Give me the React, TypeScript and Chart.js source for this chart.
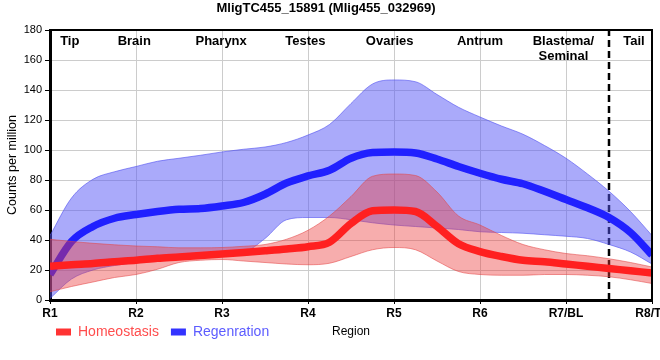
import React, { useEffect, useRef } from "react";
import { Chart, registerables } from "chart.js";

Chart.register(...registerables);

const FONT = "'Liberation Sans', Arial, Helvetica, sans-serif";

const chartTitle = "MligTC455_15891 (Mlig455_032969)";
const yAxisTitle = "Counts per million";
const xAxisTitle = "Region";
const seriesNames = ["Homeostasis", "Regenration"];
const xTickLabels = ["R1", "R2", "R3", "R4", "R5", "R6", "R7/BL", "R8/TL"];
const regionNames = [["Tip"], ["Brain"], ["Pharynx"], ["Testes"], ["Ovaries"], ["Antrum"], ["Blastema/", "Seminal"], ["Tail"]];
const regionCenters = [1.23, 1.98, 2.99, 3.97, 4.95, 6.0, 6.97, 7.79];
const dividerX = 7.5;

const xPositions = [1, 1.25, 1.5, 1.75, 2, 2.25, 2.5, 2.75, 3, 3.25, 3.5, 3.75, 4, 4.25, 4.5, 4.75, 5, 5.25, 5.5, 5.75, 6, 6.25, 6.5, 6.75, 7, 7.25, 7.5, 7.75, 8];

const homeoMean = [22.5, 23.5, 24.3, 25.5, 26.5, 27.8, 28.7, 29.7, 30.7, 31.7, 32.8, 34, 35.5, 38.5, 51, 59.5, 60, 59, 49, 37.5, 32.3, 29, 26.5, 25.5, 24, 22.5, 21, 19.5, 18];
const homeoUpper = [40.5, 39, 37.8, 36.8, 36, 35.5, 34.8, 34.8, 35, 35.8, 37, 40.5, 46.5, 56, 69, 82.5, 84, 83, 72, 56, 50, 43, 37, 33.5, 31, 29.5, 27.5, 25, 22];
const homeoLower = [5.5, 9, 12, 15, 17, 20.5, 25, 26.5, 27, 26, 25, 24, 23.5, 24.5, 29, 33.5, 35, 33.5, 26, 19, 17, 16.5, 16.5, 17, 17, 16.5, 15.5, 13.5, 11];

const regenMean = [17, 39, 49, 54.5, 57, 59, 60.5, 61, 62.7, 65, 70.5, 78, 82.7, 86.5, 94.5, 98.3, 98.7, 98, 94, 89, 84.5, 80.5, 77.5, 72.5, 67, 61.5, 55, 45, 30];
const regenUpper = [43, 68, 80.5, 85.5, 89, 92.5, 94.5, 96.5, 98.7, 100.5, 102, 105, 110, 117, 131, 144, 146.7, 145.5, 137, 128.5, 122, 116, 110.5, 103, 94.5, 84, 72.5, 59, 43];
const regenLower = [1, 14, 20, 23, 25, 27, 28.5, 29.5, 30, 31.5, 41, 53.5, 55, 55, 53.5, 51.5, 50, 49, 48, 47, 45.5, 45, 44.5, 43.5, 42.5, 41, 37, 32, 24];

const yMin = 0;
const yMax = 180;
const yStep = 20;

export default function App() {
  const ref = useRef<HTMLCanvasElement>(null);

  useEffect(() => {
    const canvas = ref.current;
    if (!canvas) return;
    const pts = (ys: number[]) => xPositions.map((x, i) => ({ x, y: ys[i] }));

    const regionPlugin = {
      id: "regionLabels",
      afterDatasetsDraw(chart: any) {
        const { ctx, chartArea, scales } = chart;
        ctx.save();
        ctx.strokeStyle = "#000";
        ctx.lineWidth = 2;
        ctx.beginPath();
        ctx.moveTo(chartArea.left, chartArea.top);
        ctx.lineTo(chartArea.right, chartArea.top);
        ctx.lineTo(chartArea.right, chartArea.bottom);
        ctx.stroke();
        ctx.font = `bold 13px ${FONT}`;
        ctx.fillStyle = "#000";
        ctx.textAlign = "center";
        ctx.textBaseline = "middle";
        regionNames.forEach((lines, i) => {
          const x = scales.x.getPixelForValue(regionCenters[i]);
          lines.forEach((t, j) => ctx.fillText(t, x, chartArea.top + 11 + j * 15));
        });
        ctx.restore();
      },
    };

    const legendPlugin = {
      id: "legendPlace",
      afterLayout(chart: any) {
        const lg = chart.legend;
        if (!lg) return;
        lg.left = 44;
        lg.right = 44 + lg.width;
        lg.top = 313;
        lg.bottom = 313 + lg.height;
      },
    };

    const bandCommon = { pointRadius: 0, borderWidth: 1, cubicInterpolationMode: "monotone" as const };

    const chart = new Chart(canvas, {
      type: "line",
      data: {
        datasets: [
          { label: seriesNames[0], data: pts(homeoMean), borderColor: "rgb(255,32,32)", borderWidth: 7.5, pointRadius: 0, fill: false, cubicInterpolationMode: "monotone" },
          { label: "homeoUpper", data: pts(homeoUpper), borderColor: "rgba(225,70,70,0.55)", backgroundColor: "rgba(235,60,60,0.42)", fill: "+1", ...bandCommon },
          { label: "homeoLower", data: pts(homeoLower), borderColor: "rgba(225,70,70,0.55)", fill: false, ...bandCommon },
          { label: seriesNames[1], data: pts(regenMean), borderColor: "rgb(32,32,255)", borderWidth: 7.5, pointRadius: 0, fill: false, cubicInterpolationMode: "monotone" },
          { label: "regenUpper", data: pts(regenUpper), borderColor: "rgba(80,80,240,0.6)", backgroundColor: "rgba(85,85,245,0.5)", fill: "+1", ...bandCommon },
          { label: "regenLower", data: pts(regenLower), borderColor: "rgba(80,80,240,0.6)", fill: false, ...bandCommon },
          { label: "divider", data: [{ x: dividerX, y: yMin }, { x: dividerX, y: yMax }], borderColor: "#000", borderWidth: 2.5, borderDash: [7, 4], pointRadius: 0, fill: false },
        ] as any,
      },
      options: {
        responsive: false,
        animation: false,
        layout: { padding: { left: 0, right: 8, top: 0, bottom: 0 } },
        font: { family: FONT },
        plugins: {
          title: {
            display: true,
            text: chartTitle,
            color: "#000",
            font: { size: 13, weight: "bold", family: FONT },
            padding: { top: 1, bottom: 13.4 },
          },
          legend: {
            position: "bottom",
            align: "start",
            labels: {
              boxWidth: 15,
              boxHeight: 7,
              padding: 12,
              font: { size: 14, family: FONT },
              generateLabels: () => [
                { text: seriesNames[0], fillStyle: "#FF3333", strokeStyle: "#FF3333", lineWidth: 0, fontColor: "#FF4D4D", hidden: false, datasetIndex: 0 },
                { text: seriesNames[1], fillStyle: "#3333FF", strokeStyle: "#3333FF", lineWidth: 0, fontColor: "#5C5CFF", hidden: false, datasetIndex: 3 },
              ] as any,
            },
          },
          tooltip: { enabled: false },
        },
        scales: {
          x: {
            type: "linear",
            min: 1,
            max: 8,
            ticks: {
              stepSize: 1,
              autoSkip: false,
              maxRotation: 0,
              color: "#000",
              padding: 2,
              font: { size: 12, weight: "bold", family: FONT },
              callback: (v: any) => xTickLabels[Math.round(Number(v)) - 1] ?? "",
            },
            grid: { color: "#cccccc", tickColor: "#000", tickLength: 4 },
            border: { color: "#000", width: 3 },
            title: { display: true, text: xAxisTitle, color: "#000", font: { size: 12, family: FONT }, padding: { top: 0, bottom: -15.2 } },
            afterFit: (s: any) => {
              s.paddingLeft = 0;
              s.paddingRight = 0;
              s.height = 24;
            },
          },
          y: {
            min: yMin,
            max: yMax,
            ticks: { stepSize: yStep, color: "#000", padding: 3, font: { size: 11, family: FONT } },
            grid: { color: "#cccccc", tickColor: "#000", tickLength: 5 },
            border: { color: "#000", width: 3 },
            title: { display: true, text: yAxisTitle, color: "#000", font: { size: 12.5, family: FONT }, padding: { top: 5, bottom: 0 } },
            afterFit: (s: any) => {
              s.width = 50;
            },
          },
        },
      } as any,
      plugins: [regionPlugin, legendPlugin],
    });

    return () => chart.destroy();
  }, []);

  return (
    <div style={{ position: "fixed", left: 0, top: 0, width: 660, height: 360, background: "#fff" }}>
      <canvas ref={ref} width={660} height={360} style={{ display: "block", width: 660, height: 360 }} />
    </div>
  );
}
